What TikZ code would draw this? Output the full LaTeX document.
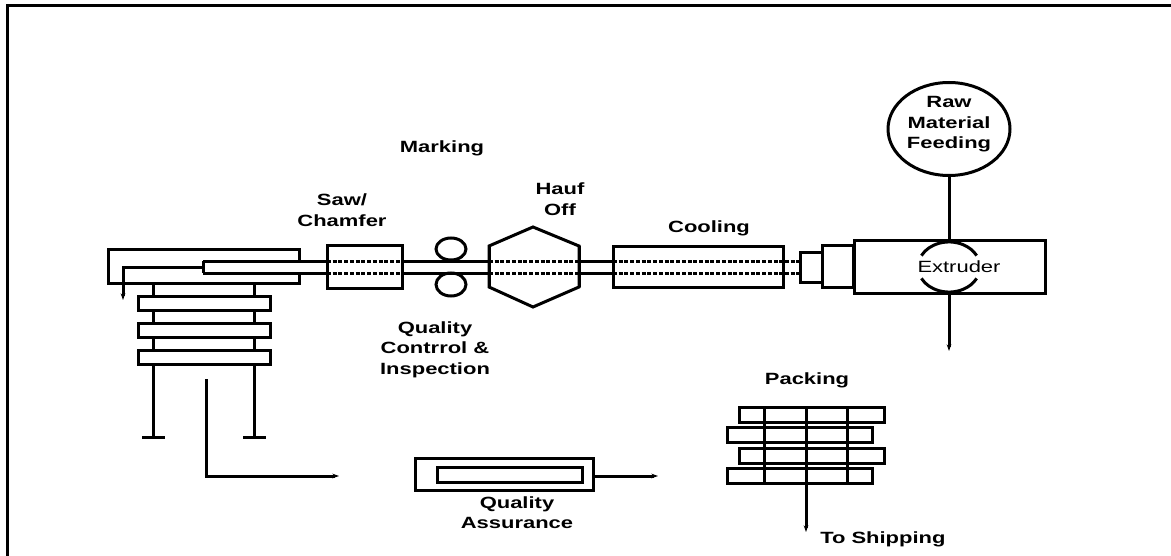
\documentclass[tikz,border=0pt]{standalone}
\usepackage{fontspec}
\setmainfont[FakeStretch=1.35]{Liberation Sans}
\usepackage{tikz}
\usetikzlibrary{arrows.meta,positioning,calc,shapes.geometric}

\tikzset{
    wall/.style={line width=2.25pt},
    thinwall/.style={line width=2.25pt},
    hidden/.style={line width=2.25pt, dash pattern=on 3pt off 1.3pt},
    outflow/.style={line width=2.25pt, -{Stealth[length=5pt,width=3.5pt]}},
    unit/.style={draw=black, line width=2.25pt, fill=white, inner sep=0pt},
    lab/.style={font=\fontsize{12.2}{15.4}\selectfont\bfseries, align=center, inner sep=0pt},
}

\begin{document}
\begin{tikzpicture}[x=0.75pt,y=-0.75pt]
        \useasboundingbox (0,0) rectangle (1171,556);
        % frame
        \draw[line width=2.25pt] (7,556) -- (7,6) -- (1171,6);

        % coil
        \node[unit, minimum width=143.25pt, minimum height=25.5pt] (coil) at (203.5,266) {};
        \coordinate (tubeleft) at (203,267);
        \coordinate (coildrop) at (123,267);
        \coordinate (coilout) at (123,300);
        \fill[white] (203,261) rectangle (327,273);
        \draw[thinwall, -{Stealth[length=5pt,width=3.5pt]}] (tubeleft) -- (coildrop) -- (coilout);
        \draw[wall] (153,283) -- (153,437) (142,437) -- (165,437);
        \draw[wall] (254,283) -- (254,437) (243,437) -- (266,437);
        \foreach \i/\y in {1/303,2/330,3/357}
            \node[unit, minimum width=99pt, minimum height=10.5pt] (plate\i) at (204,\y) {};

        % tube
        \node[unit, minimum width=56.25pt, minimum height=32.25pt] (saw) at (364.5,266.5) {};
        \node[unit, minimum width=127.5pt, minimum height=30.75pt] (cooling) at (698,266.5) {};
        \node[unit, minimum width=16.5pt, minimum height=22.5pt] (nozzle) at (811,267) {};
        \node[unit, minimum width=23.25pt, minimum height=31.5pt] (barrel) at (837.5,266) {};
        \node[unit, minimum width=143.25pt, minimum height=39.75pt] (extruder) at (949.5,266.5) {};
        \draw[wall, fill=white] (489,246) -- (533,227) -- (579,246) -- (579,287) -- (533,307) -- (489,287) -- cycle;
        \foreach \y in {261,273} {
            \draw[wall] (203,\y) -- (327,\y);
            \draw[hidden] (327,\y) -- (402,\y);
            \draw[wall] (402,\y) -- (489,\y);
            \draw[hidden] (489,\y) -- (579,\y);
            \draw[wall] (579,\y) -- (613,\y);
            \draw[hidden] (613,\y) -- (800,\y);
        }
        \draw[wall] (203,261) -- (203,273);
        \draw[wall] (451,249) ellipse (15 and 11);
        \draw[wall] (451,284.5) ellipse (15 and 11.5);
        \draw[wall] (327,245) rectangle (402,288);
        \draw[wall] (613,246) rectangle (783,287);
        \draw[wall] (489,246) -- (489,287) (579,246) -- (579,287);
        \draw[wall] (800,252) rectangle (822,282);

        % feed
        \node[draw=black, line width=2.25pt, ellipse, minimum width=91.5pt, minimum height=69.75pt, inner sep=0pt] (raw) at (949,129) {};
        \node[lab] (rawtext) at (949,124.5) {Raw\\Material\\Feeding};
        \draw[wall] (raw.south) -- (extruder.north -| raw.south);
        \draw[wall] (921.4,255.6) arc[start angle=207, end angle=333, x radius=31, y radius=25];
        \draw[wall] (921.4,278.4) arc[start angle=153, end angle=27, x radius=31, y radius=25];
        \node[font=\fontsize{12.2}{15}\selectfont, inner sep=0pt] (extrudertext) at (959,267) {Extruder};
        \coordinate (scrapout) at (949,351);
        \draw[outflow] (extruder.south -| scrapout) -- (scrapout);

        % labels
        \node[lab] (marking) at (442,148) {Marking};
        \node[lab] (sawtext) at (342,210) {Saw/\\Chamfer};
        \node[lab] (hauf) at (560,199) {Hauf\\Off};
        \node[lab] (coolingtext) at (709,228) {Cooling};
        \node[lab] (inspection) at (435,349.5) {Quality\\Contrrol \&\\Inspection};

        % quality assurance
        \node[unit, minimum width=133.5pt, minimum height=24pt] (qa) at (504,474) {};
        \node[unit, minimum width=108.75pt, minimum height=11.25pt] (qainner) at (509.5,474.5) {};
        \node[lab] (qatext) at (517,512.5) {Quality\\Assurance};
        \coordinate (coilstart) at (206,379);
        \coordinate (coilbend) at (206,476);
        \coordinate (qain) at (339,476);
        \coordinate (qaout) at (658,476);
        \draw[thinwall, -{Stealth[length=5pt,width=3.5pt]}] (coilstart) -- (coilbend) -- (qain);
        \draw[outflow] (qa.east |- qaout) -- (qaout);

        % packing
        \foreach \i/\x/\y in {1/811.5/414.5,2/799.5/434.5,3/811.5/455.5,4/799.5/475.5}
            \node[draw=black, line width=2.25pt, inner sep=0pt, minimum width=108.75pt, minimum height=11.25pt] (pack\i) at (\x,\y) {};
        \foreach \x in {764,847}
            \draw[wall] (\x,407) -- (\x,483);
        \coordinate (shipping) at (806,532);
        \draw[outflow] (806,407) -- (shipping);
        \node[lab] (packing) at (807,380) {Packing};
        \node[lab, anchor=west] (shiptext) at (820,539) {To Shipping};
    \end{tikzpicture}
\end{document}
